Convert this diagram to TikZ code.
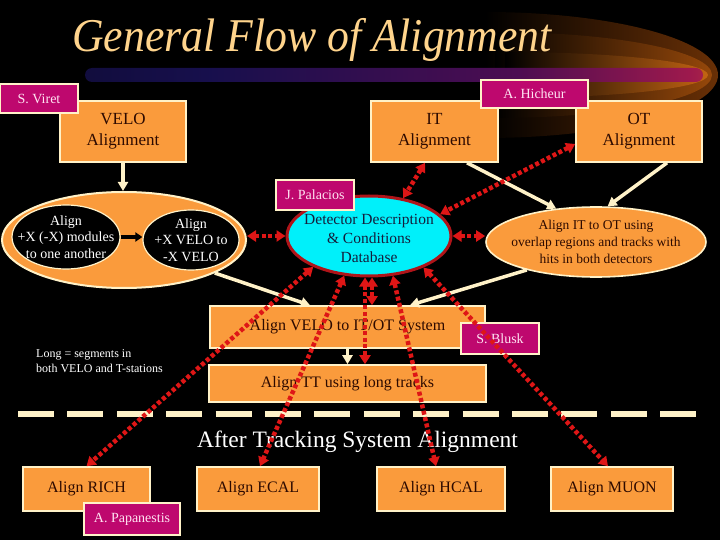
\documentclass[tikz,border=0pt]{standalone}
\usepackage{fontspec}
\setmainfont{Liberation Serif}
\usetikzlibrary{arrows.meta,shapes.geometric,calc}

\definecolor{boxorange}{RGB}{250,155,60}
\definecolor{cream}{RGB}{255,242,200}
\definecolor{magentab}{RGB}{190,8,110}
\definecolor{cyanfill}{RGB}{0,240,250}
\definecolor{dbred}{RGB}{175,20,25}
\definecolor{redarr}{RGB}{222,22,22}
\definecolor{boxtext}{RGB}{45,10,0}
\definecolor{dettext}{RGB}{20,30,60}
\definecolor{titlecol}{RGB}{255,212,140}
\definecolor{pinktext}{RGB}{255,228,242}
\definecolor{swA}{RGB}{105,48,6}
\definecolor{swB}{RGB}{150,72,10}
\definecolor{swC}{RGB}{195,100,18}

\pgfdeclarehorizontalshading{barshade}{100bp}{rgb(0bp)=(0,0,0); rgb(8bp)=(0.03,0.03,0.14); rgb(35bp)=(0.09,0.06,0.3); rgb(60bp)=(0.3,0.05,0.32); rgb(74bp)=(0.62,0.1,0.3); rgb(86bp)=(0.93,0.42,0.12); rgb(100bp)=(1,0.74,0.15)}

\begin{document}
\begin{tikzpicture}[x=1pt,y=-1pt,
  orangebox/.style={draw=cream, line width=1.6pt, fill=boxorange, text=boxtext, align=center, inner sep=0pt},
  namebox/.style={draw=cream, line width=1.6pt, fill=magentab, text=pinktext, font=\fontsize{14}{16}\selectfont, inner sep=0pt},
  ell/.style={ellipse, inner sep=0pt},
  creamarrow/.style={draw=cream, line width=3.5pt, -{Triangle[length=9pt,width=10pt]}},
  redarrow/.style={draw=redarr, line width=4.5pt, dash pattern=on 4pt off 2.5pt, {Triangle[length=9pt,width=11pt]}-{Triangle[length=9pt,width=11pt]}},
  boxfont/.style={font=\fontsize{17}{21}\selectfont},
  midfont/.style={font=\fontsize{16}{19}\selectfont},
  ]
\useasboundingbox (0,0) rectangle (720,540);
\fill[black] (0,0) rectangle (720,540);

% swoosh glow
\shade[left color=black, right color=swA] (485,12) arc[start angle=-90, end angle=90, x radius=233, y radius=63] -- cycle;
\shade[left color=black, right color=swB] (495,32) arc[start angle=-90, end angle=90, x radius=217, y radius=43] -- cycle;
\shade[left color=black, right color=swC] (505,52) arc[start angle=-90, end angle=90, x radius=203, y radius=23] -- cycle;
% gradient bar
\shade[shading=barshade, rounded corners=7pt] (85,68) rectangle (703,82);

% title
\node[anchor=base west, inner sep=0pt, text=titlecol, font=\fontsize{47}{52}\selectfont\itshape] (title) at (72,52) {\scalebox{0.93}[1]{General Flow of Alignment}};

% top boxes
\node[orangebox, boxfont, minimum width=126pt, minimum height=61pt] (velo) at (123,131.5) {VELO\\Alignment};
\node[orangebox, boxfont, minimum width=127pt, minimum height=61pt] (it) at (434.5,131.5) {IT\\Alignment};
\node[orangebox, boxfont, minimum width=126pt, minimum height=61pt] (ot) at (639,131.5) {OT\\Alignment};
\node[namebox, minimum width=78pt, minimum height=29pt] (viret) at (39,98.5) {S. Viret};
\node[namebox, minimum width=107pt, minimum height=28pt] (hicheur) at (534.5,94) {A. Hicheur};

% VELO ellipses
\node[ell, draw=cream, line width=2pt, fill=boxorange, minimum width=244pt, minimum height=96pt] (outer) at (124,240) {};
\node[ell, draw=cream, line width=1.2pt, fill=black, minimum width=108pt, minimum height=64pt] (lefte) at (66,237) {};
\node[ell, draw=cream, line width=1.2pt, fill=black, minimum width=96pt, minimum height=60pt] (righte) at (191,240) {};
\node[text=white, align=center, font=\fontsize{14}{16.7}\selectfont, inner sep=0pt] (lefttxt) at (lefte.center) {Align\\+X (-X) modules\\to one another};
\node[text=white, align=center, font=\fontsize{14}{16.7}\selectfont, inner sep=0pt] (righttxt) at (righte.center) {Align\\+X VELO to\\-X VELO};
\draw[line width=4pt, black, -{Triangle[length=7pt,width=9pt]}] (lefte.east) -- (lefte.east -| righte.west);

% database ellipse
\node[ell, draw=dbred, line width=3pt, fill=cyanfill, minimum width=164pt, minimum height=80pt] (det) at (369,236) {};
\node[text=dettext, align=center, font=\fontsize{15.5}{19}\selectfont, inner sep=0pt] (dettxt) at (369,238) {Detector Description\\\& Conditions\\Database};
\node[namebox, minimum width=78pt, minimum height=30pt] (palacios) at (315,195) {J. Palacios};

% IT-OT ellipse
\node[ell, draw=cream, line width=1.6pt, fill=boxorange, minimum width=220pt, minimum height=70pt] (itot) at (596,242) {};
\node[text=boxtext, align=center, font=\fontsize{13.5}{16.7}\selectfont, inner sep=0pt] (itottxt) at (itot.center) {Align IT to OT using\\overlap regions and tracks with\\hits in both detectors};

% middle boxes
\node[orangebox, midfont, minimum width=275pt, minimum height=42pt] (veloit) at (347.5,327) {Align VELO to IT/OT System};
\node[orangebox, midfont, minimum width=277pt, minimum height=37pt] (tt) at (347.5,383.5) {Align TT using long tracks};
\node[namebox, minimum width=78pt, minimum height=31pt] (blusk) at (500,338.5) {S. Blusk};
\node[anchor=west, align=left, text=white, font=\fontsize{12}{15}\selectfont, inner sep=0pt] (longtxt) at (36,361) {Long = segments in\\both VELO and T-stations};

% separator
\coordinate (sepL) at (18,414);
\coordinate (sepR) at (698,414);
\draw[cream, line width=6pt, dash pattern=on 36pt off 13.4pt] (sepL) -- (sepR);
\node[anchor=base, text=white, font=\fontsize{23.5}{26}\selectfont, inner sep=0pt] (after) at (357.5,447) {After Tracking System Alignment};

% bottom boxes
\node[orangebox, midfont, minimum width=127pt, minimum height=44pt] (rich) at (86.5,489) {Align RICH};
\node[orangebox, midfont, minimum width=122pt, minimum height=44pt] (ecal) at (258,489) {Align ECAL};
\node[orangebox, midfont, minimum width=128pt, minimum height=44pt] (hcal) at (441,489) {Align HCAL};
\node[orangebox, midfont, minimum width=122pt, minimum height=44pt] (muon) at (612,489) {Align MUON};
\node[namebox, minimum width=96pt, minimum height=32pt] (papa) at (132,519) {A. Papanestis};

% cream arrows
\draw[creamarrow] (velo.south) -- (velo.south |- outer.north);
\draw[creamarrow] ([xshift=32.5pt]it.south) -- (itot.140);
\draw[creamarrow] ([xshift=28pt]ot.south) -- (itot.72);
\draw[creamarrow] (itot.202) -- ([xshift=62.5pt]veloit.north);
\draw[creamarrow] (outer.-20) -- ([xshift=-37.5pt]veloit.north);
\draw[creamarrow] (veloit.south) -- (tt.north);

% red dotted arrows
\draw[redarrow] ([xshift=-9.5pt]it.south) -- (det.48);
\draw[redarrow] ([yshift=-12.5pt]ot.west) -- (det.17);
\draw[redarrow] (outer.east |- det.west) -- (det.west);
\draw[redarrow] (det.east) -- (det.east -| itot.west);
\draw[redarrow] (det.209) -- (rich.north);
\draw[redarrow] (det.238) -- ([xshift=2pt]ecal.north);
\draw[redarrow] ([xshift=-4pt]det.south) -- ([xshift=-4pt]det.south |- tt.north);
\draw[redarrow] ([xshift=3pt]det.south) -- ([xshift=3pt]det.south |- veloit.north);
\draw[redarrow] (det.301) -- ([xshift=-5pt]hcal.north);
\draw[redarrow] (det.330) -- ([xshift=-4pt]muon.north);
\end{tikzpicture}
\end{document}
